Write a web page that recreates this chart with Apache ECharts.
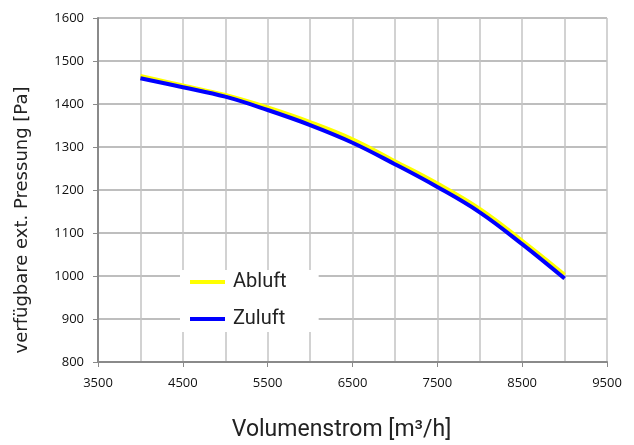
<!DOCTYPE html>
<html>
<head>
<meta charset="utf-8">
<script src="https://cdn.jsdelivr.net/npm/echarts@6/dist/echarts.min.js"></script>
<style>
  html, body { margin: 0; padding: 0; background: #fff; }
  #chart { width: 634px; height: 445px; }
</style>
</head>
<body>
<div id="chart"></div>
<script>
// volume flow points (m3/h)
const volumes = [4000, 4500, 5000, 5500, 6000, 6500, 7000, 7500, 8000, 8500, 9000]
// available external pressure (Pa)
const abluft = [1465, 1443, 1421, 1392, 1358, 1318, 1267, 1215, 1156, 1082, 1003]
const zuluft = [1460, 1439, 1417, 1386, 1351, 1310, 1260, 1207, 1148, 1074, 994]

const pairs = (ys) => volumes.map((x, i) => [x, ys[i]])
const plain = (v) => String(v)

const chart = echarts.init(document.getElementById('chart'))
chart.setOption({
  backgroundColor: '#fff',
  animation: false,
  grid: { left: 98, right: 27, top: 18, bottom: 83, outerBoundsMode: 'none' },
  legend: {
    orient: 'vertical',
    left: 180,
    top: 270,
    backgroundColor: '#fff',
    padding: [2, 32, 3, 10],
    itemGap: 17,
    itemWidth: 35,
    itemHeight: 4,
    icon: 'rect',
    textStyle: { fontFamily: 'Roboto', fontSize: 20, lineHeight: 20, color: '#222', padding: [0, 0, 0, 3] },
    data: ['Abluft', 'Zuluft'],
  },
  xAxis: {
    type: 'value',
    min: 3500,
    max: 9500,
    interval: 1000,
    name: 'Volumenstrom [m³/h]',
    nameLocation: 'middle',
    nameGap: 57,
    nameTextStyle: { fontFamily: 'Roboto', fontSize: 23, color: '#222', padding: [0, 22, 0, 0] },
    axisLine: { lineStyle: { color: '#8a8a8a', width: 2 } },
    axisTick: { show: true, length: 5, lineStyle: { color: '#8a8a8a' } },
    axisLabel: { fontFamily: 'Open Sans', fontSize: 13, color: '#111', margin: 15, formatter: plain },
    splitLine: { lineStyle: { color: '#c4c4c4', width: 1.5 } },
    minorTick: { show: false, splitNumber: 2 },
    minorSplitLine: { show: true, lineStyle: { color: '#c4c4c4', width: 1.5 } },
  },
  yAxis: {
    type: 'value',
    min: 800,
    max: 1600,
    interval: 100,
    name: 'verfügbare ext. Pressung [Pa]',
    nameLocation: 'middle',
    nameGap: 67,
    nameTextStyle: { fontFamily: 'DejaVu Sans', fontSize: 18, color: '#222', padding: [0, 60, 0, 0] },
    axisLine: { show: true, lineStyle: { color: '#8a8a8a', width: 2 } },
    axisTick: { show: true, length: 5, lineStyle: { color: '#8a8a8a' } },
    axisLabel: { fontFamily: 'Open Sans', fontSize: 13, color: '#111', margin: 14, formatter: plain },
    splitLine: { lineStyle: { color: '#a8a8a8', width: 1.5 } },
  },
  series: [
    {
      name: 'Abluft',
      type: 'line',
      data: pairs(abluft),
      smooth: 0.4,
      symbol: 'none',
      lineStyle: { color: '#ffff00', width: 4 },
      itemStyle: { color: '#ffff00' },
    },
    {
      name: 'Zuluft',
      type: 'line',
      data: pairs(zuluft),
      smooth: 0.4,
      symbol: 'none',
      lineStyle: { color: '#0000ff', width: 4 },
      itemStyle: { color: '#0000ff' },
    },
  ],
})
</script>
</body>
</html>
